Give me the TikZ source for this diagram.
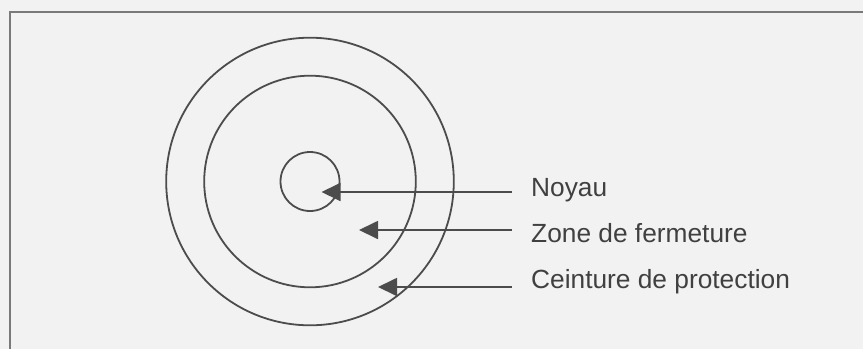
\documentclass[tikz,border=0pt]{standalone}
\usepackage{fontspec}
\setmainfont{Liberation Sans}
\usepackage{xcolor}
\usetikzlibrary{arrows.meta,positioning}
\definecolor{paper}{HTML}{F2F2F2}
\definecolor{framegray}{HTML}{7A7A7A}
\definecolor{ringgray}{HTML}{4C4C4C}
\definecolor{textgray}{HTML}{404040}

\begin{document}
\begin{tikzpicture}[
  x=1pt,y=-1pt,
  ring/.style={draw=ringgray,circle,line width=1.8pt,inner sep=0pt},
  tag/.style={anchor=base west,inner sep=0pt,text=textgray,font=\fontsize{26.3}{31}\selectfont},
  arrow/.style={-{Triangle[length=19pt,width=18pt]},line width=1.8pt,draw=ringgray}
]
  \fill[paper] (0,0) rectangle (863,349);
  \useasboundingbox (0,0) rectangle (863,349);
  \draw[framegray,line width=2pt] (9.5,349) -- (9.5,12) -- (863,12);

  \coordinate (c) at (310,181.5);
  \node[ring,minimum size=287.6pt] (outer) at (c) {};
  \node[ring,minimum size=211.6pt] (middle) at (c) {};
  \node[ring,minimum size=59pt] (core) at (c) {};

  \node[tag] (noyau) at (531,196.7) {Noyau};
  \node[tag] (zone) at (531,242.7) {Zone de fermeture};
  \node[tag] (ceinture) at (531,288.3) {Ceinture de protection};

  \coordinate (noyaustart) at (512,192);
  \coordinate (zonestart) at (512,230);
  \coordinate (ceinturestart) at (512,287);
  \coordinate (noyautip) at (321.5,192);
  \coordinate (zonetip) at (359,230);
  \coordinate (ceinturetip) at (378,287);

  \draw[arrow] (noyaustart) -- (noyautip);
  \draw[arrow] (zonestart) -- (zonetip);
  \draw[arrow] (ceinturestart) -- (ceinturetip);
\end{tikzpicture}
\end{document}
